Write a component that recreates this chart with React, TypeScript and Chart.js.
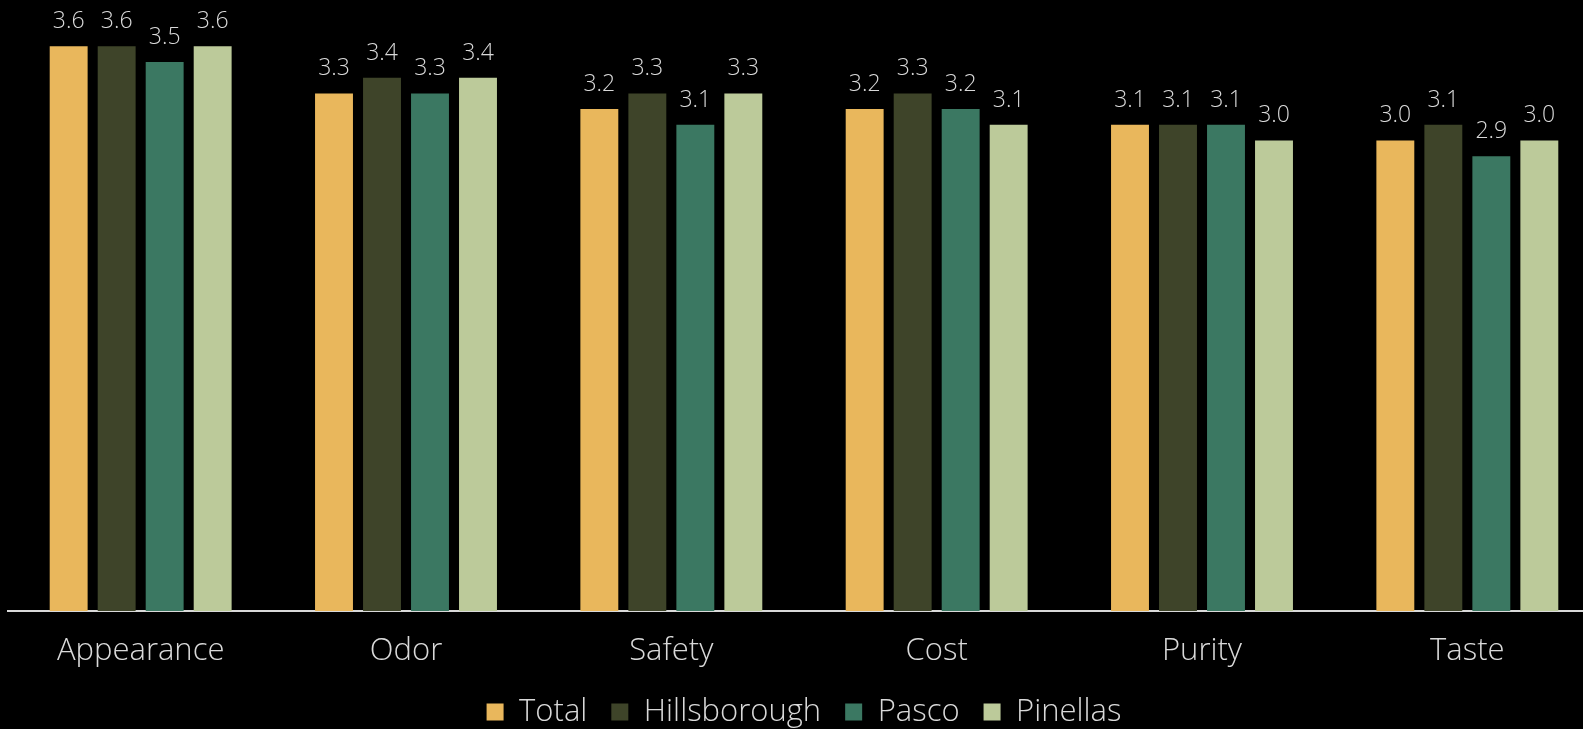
import React, { useEffect, useRef } from "react";
import { Chart, registerables } from "chart.js";

Chart.register(...registerables);

const categories = ["Appearance", "Odor", "Safety", "Cost", "Purity", "Taste"];
const seriesNames = ["Total", "Hillsborough", "Pasco", "Pinellas"];
const totalValues = [3.6, 3.3, 3.2, 3.2, 3.1, 3.0];
const hillsboroughValues = [3.6, 3.4, 3.3, 3.3, 3.1, 3.1];
const pascoValues = [3.5, 3.3, 3.1, 3.2, 3.1, 2.9];
const pinellasValues = [3.6, 3.4, 3.3, 3.1, 3.0, 3.0];
const seriesColors = ["#E9B75C", "#3E4429", "#3B7862", "#BCCA9A"];

const FONT = "'Open Sans', Lato, sans-serif";
const TEXT = "#d9d9d9";

const valueLabels = {
  id: "valueLabels",
  afterDatasetsDraw(chart: any) {
    const ctx = chart.ctx;
    ctx.save();
    ctx.font = `300 23px ${FONT}`;
    ctx.fillStyle = TEXT;
    ctx.textAlign = "center";
    ctx.textBaseline = "alphabetic";
    chart.data.datasets.forEach((ds: any, i: number) => {
      const meta = chart.getDatasetMeta(i);
      meta.data.forEach((bar: any, j: number) => {
        const v = ds.data[j];
        ctx.fillText(Number(v).toFixed(1), bar.x, bar.y - 18);
      });
    });
    ctx.restore();
  },
};

export default function App() {
  const ref = useRef<HTMLCanvasElement | null>(null);
  useEffect(() => {
    if (!ref.current) return;
    const all = [totalValues, hillsboroughValues, pascoValues, pinellasValues];
    const chart = new Chart(ref.current, {
      type: "bar",
      data: {
        labels: categories,
        datasets: seriesNames.map((name, i) => ({
          label: name,
          data: all[i],
          backgroundColor: seriesColors[i],
          borderWidth: 0,
          categoryPercentage: 0.7236,
          barPercentage: 0.79,
        })),
      },
      options: {
        animation: false,
        responsive: false,
        devicePixelRatio: 1,
        layout: { padding: { top: 15, left: 8, right: 0, bottom: -8.5 } },
        plugins: {
          legend: {
            position: "bottom",
            labels: {
              boxWidth: 17,
              boxHeight: 17,
              color: TEXT,
              padding: 24,
              font: { family: FONT, size: 31, weight: "300" as any },
            },
          },
          tooltip: { enabled: false },
        },
        scales: {
          x: {
            grid: { display: false, drawTicks: false },
            border: { color: TEXT, width: 2 },
            ticks: {
              color: TEXT,
              padding: 22,
              font: { family: FONT, size: 31, weight: "300" as any },
            },
            afterFit: (scale: any) => {
              scale.height = 61.5;
            },
          },
          y: { display: false, min: 0, max: 3.8 },
        },
      },
      plugins: [valueLabels],
    });
    return () => chart.destroy();
  }, []);
  return (
    <div
      style={{
        position: "fixed",
        left: 0,
        top: 0,
        width: 1583,
        height: 729,
        overflow: "hidden",
        background: "#000",
      }}
    >
      <canvas ref={ref} width={1600} height={729} style={{ display: "block" }} />
    </div>
  );
}
